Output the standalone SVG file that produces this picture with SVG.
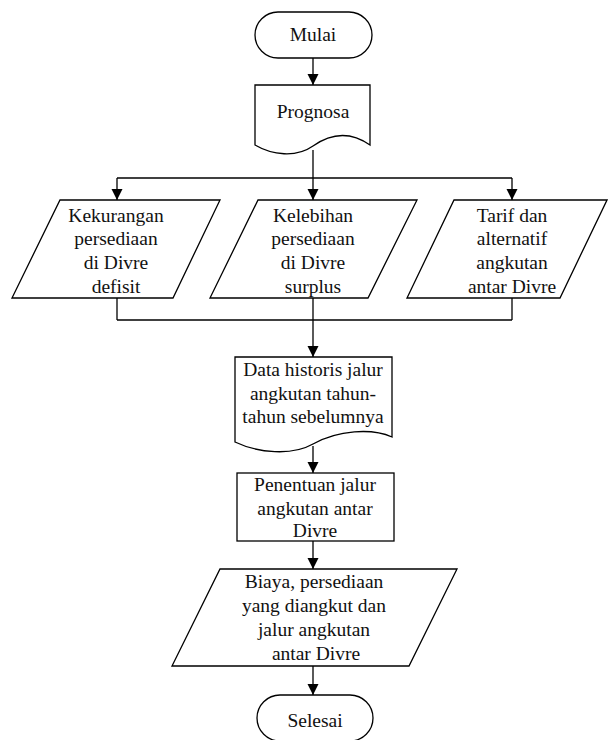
<svg xmlns="http://www.w3.org/2000/svg" width="608" height="740" viewBox="0 0 608 740">
<defs>
<style>
.s{fill:#fff;stroke:#000;stroke-width:1.3}
.c{fill:none;stroke:#000;stroke-width:1.3}
text{font-size:19.5px;fill:#111;text-anchor:middle}
</style>
<marker id="ah" markerUnits="userSpaceOnUse" markerWidth="12" markerHeight="12" viewBox="0 0 12 12" refX="11" refY="6" orient="auto">
<path d="M0,0.5 L11,6 L0,11.5 Z" fill="#000"/>
</marker>
</defs>
<rect width="608" height="740" fill="#fff"/>
<g id="connectors">
<line class="c" x1="313" y1="58" x2="313" y2="85" marker-end="url(#ah)"/>
<line class="c" x1="313" y1="150" x2="313" y2="178"/>
<line class="c" x1="117" y1="178" x2="512" y2="178"/>
<line class="c" x1="117" y1="178" x2="117" y2="200" marker-end="url(#ah)"/>
<line class="c" x1="313" y1="178" x2="313" y2="200" marker-end="url(#ah)"/>
<line class="c" x1="512" y1="178" x2="512" y2="200" marker-end="url(#ah)"/>
<line class="c" x1="117" y1="298" x2="117" y2="320"/>
<line class="c" x1="512" y1="298" x2="512" y2="320"/>
<line class="c" x1="117" y1="320" x2="512" y2="320"/>
<line class="c" x1="313" y1="298" x2="313" y2="357" marker-end="url(#ah)"/>
<line class="c" x1="313" y1="446" x2="313" y2="473" marker-end="url(#ah)"/>
<line class="c" x1="313" y1="541" x2="313" y2="569" marker-end="url(#ah)"/>
<line class="c" x1="313" y1="666" x2="313" y2="695" marker-end="url(#ah)"/>
</g>
<g id="nodes" font-family="Liberation Serif, Times New Roman, serif">
<g id="mulai">
<rect class="s" x="255" y="12" width="117" height="46" rx="23"/>
<text x="313" y="41">Mulai</text>
</g>
<g id="prognosa">
<path class="s" d="M255,85 H370 V145 C350,131 330,134 313,146 C296,158 272,155 255,145 Z"/>
<text x="313" y="118">Prognosa</text>
</g>
<g id="kekurangan">
<polygon class="s" points="60,200 220,200 173,298 12,298"/>
<text x="116" y="222">Kekurangan</text>
<text x="116" y="245">persediaan</text>
<text x="116" y="269">di Divre</text>
<text x="116" y="293">defisit</text>
</g>
<g id="kelebihan">
<polygon class="s" points="258,200 417,200 368,298 210,298"/>
<text x="313" y="222">Kelebihan</text>
<text x="313" y="245">persediaan</text>
<text x="313" y="269">di Divre</text>
<text x="313" y="293">surplus</text>
</g>
<g id="tarif">
<polygon class="s" points="454,200 607,200 560,298 407,298"/>
<text x="512" y="222">Tarif dan</text>
<text x="512" y="245">alternatif</text>
<text x="512" y="269">angkutan</text>
<text x="512" y="293">antar Divre</text>
</g>
<g id="data-historis">
<path class="s" d="M235,357 H392 V437 C372,428 338,430 313,444 C292,456 258,453 235,442 Z"/>
<text x="313" y="376">Data historis jalur</text>
<text x="313" y="400">angkutan tahun-</text>
<text x="313" y="423">tahun sebelumnya</text>
</g>
<g id="penentuan">
<rect class="s" x="237" y="473" width="157" height="68"/>
<text x="315" y="491">Penentuan jalur</text>
<text x="315" y="515">angkutan antar</text>
<text x="315" y="537">Divre</text>
</g>
<g id="biaya">
<polygon class="s" points="220,569 457,569 409,666 172,666"/>
<text x="314" y="588">Biaya, persediaan</text>
<text x="314" y="612">yang diangkut dan</text>
<text x="314" y="636">jalur angkutan</text>
<text x="316" y="660">antar Divre</text>
</g>
<g id="selesai">
<rect class="s" x="257" y="695" width="116" height="46" rx="23"/>
<text x="315" y="727">Selesai</text>
</g>
</g>
</svg>
